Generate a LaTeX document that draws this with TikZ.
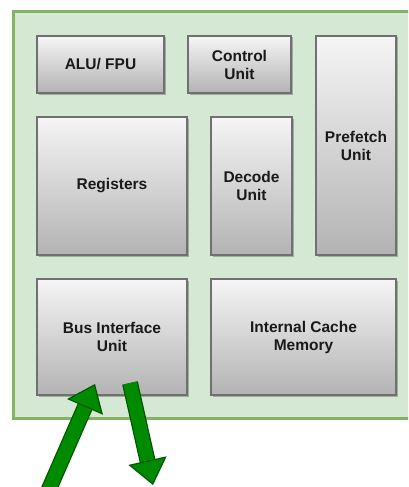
\documentclass[tikz,border=0pt]{standalone}
\usepackage{fontspec}
\setmainfont{Liberation Sans}
\usepackage{tikz}
\usetikzlibrary{arrows.meta,positioning,shadows}
\definecolor{FrameFill}{HTML}{D5E8D4}
\definecolor{FrameLine}{HTML}{82B366}
\definecolor{BoxTop}{HTML}{F5F5F5}
\definecolor{BoxBot}{HTML}{B3B3B3}
\definecolor{BoxLine}{HTML}{707070}
\definecolor{BusFill}{HTML}{008A00}
\definecolor{BusLine}{HTML}{005700}

\begin{document}
\begin{tikzpicture}[x=1pt,y=-1pt,font=\fontsize{15.5}{18}\selectfont\bfseries,
    unit/.style={draw=BoxLine,line width=2pt,top color=BoxTop,bottom color=BoxBot,align=center,text=black!90,
      drop shadow={shadow xshift=1.5pt,shadow yshift=-1.5pt,opacity=.25,fill=black}},
    busarrow/.style={draw=BusFill,line width=13.5pt,-{Triangle[length=25pt,width=39pt,fill=BusFill,color=BusLine,line width=1.2pt]},
      preaction={draw=BusLine,line width=16pt,arrows=-,shorten >=12pt}}]
        \path[use as bounding box,clip] (0,0) rectangle (408,487);
        \draw[draw=FrameLine,fill=FrameFill,line width=3pt] (13,12) rectangle (440,418);
        % top row
        \node[unit,minimum width=127pt,minimum height=57pt] (alu) at (100.5,64.5) {ALU/ FPU};
        \node[unit,minimum width=103pt,minimum height=57pt] (ctrl) at (239.5,64.5) {Control\\Unit};
        \node[unit,minimum width=80pt,minimum height=219pt] (pref) at (356,145.5) {Prefetch\\Unit};
        % middle row
        \node[unit,minimum width=150pt,minimum height=138pt] (regs) at (112,186) {Registers};
        \node[unit,minimum width=81pt,minimum height=138pt] (dec) at (251.5,186) {Decode\\Unit};
        % bottom row
        \node[unit,minimum width=150pt,minimum height=116pt] (biu) at (112,337) {Bus Interface\\Unit};
        \node[unit,minimum width=185pt,minimum height=116pt] (cache) at (303.5,337) {Internal Cache\\Memory};
        % bus in / out
        \coordinate (busin) at (39,512);
        \coordinate (busout) at (153,485);
        \draw[busarrow] (busin) -- ([xshift=-17pt,yshift=12pt]biu.south);
        \draw[busarrow] ([xshift=18pt,yshift=13pt]biu.south) -- (busout);
      \end{tikzpicture}
\end{document}
